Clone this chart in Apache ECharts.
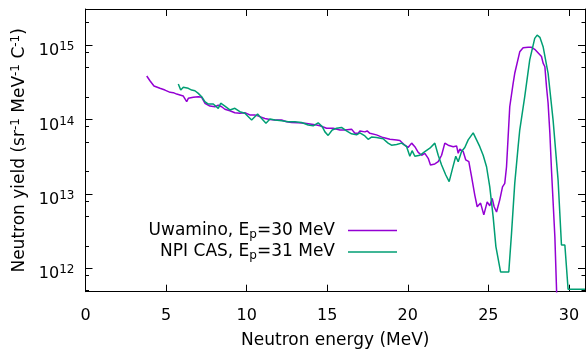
<!DOCTYPE html>
<html>
<head>
<meta charset="utf-8">
<script src="https://cdn.jsdelivr.net/npm/echarts@6/dist/echarts.min.js"></script>
<style>
  html, body { margin: 0; padding: 0; background: #fff; }
  #chart { width: 587px; height: 356px; }
</style>
</head>
<body>
<div id="chart"></div>
<script>
// Uwamino, Ep = 30 MeV (energy in MeV, yield in sr^-1 MeV^-1 C^-1)
const uwaminoE = [3.80, 4.00, 4.25, 4.62, 4.93, 5.25, 5.45, 5.66, 5.86, 6.07, 6.28, 6.38, 6.69, 7.00, 7.21, 7.41, 7.72, 8.03, 8.24, 8.45,
  8.65, 8.96, 9.27, 9.58, 9.89, 10.20, 10.51, 10.82, 11.13, 11.45, 11.76, 12.17, 12.48, 12.79, 13.20, 13.62, 13.93, 14.34, 14.55, 14.96,
  15.37, 15.79, 16.10, 16.51, 16.72, 16.92, 17.03, 17.34, 17.48, 17.65, 18.06, 18.47, 18.89, 19.31, 19.51, 19.82, 20.02, 20.24, 20.44, 20.65,
  20.86, 21.06, 21.27, 21.41, 21.68, 21.89, 22.10, 22.30, 22.51, 22.82, 23.03, 23.13, 23.23, 23.44, 23.60, 23.79, 23.96, 24.16, 24.31, 24.52,
  24.72, 24.93, 25.09, 25.24, 25.36, 25.51, 25.71, 25.88, 26.02, 26.13, 26.33, 26.54, 26.64, 26.95, 27.16, 27.47, 27.68, 27.88, 27.99, 28.30,
  28.40, 28.51, 28.61, 28.71, 28.82, 28.92, 29.13, 29.25];
const uwaminoY = [3.83e14, 3.31e14, 2.81e14, 2.62e14, 2.48e14, 2.31e14, 2.29e14, 2.19e14, 2.13e14, 2.06e14, 1.73e14, 1.92e14, 1.98e14, 2.02e14, 1.98e14, 1.65e14, 1.51e14, 1.48e14, 1.56e14, 1.48e14,
  1.37e14, 1.31e14, 1.23e14, 1.21e14, 1.23e14, 1.15e14, 1.15e14, 1.09e14, 1.03e14, 1.00e14, 9.8e13, 9.8e13, 9.3e13, 9.1e13, 9.0e13, 8.9e13, 8.7e13, 8.4e13, 8.2e13, 7.6e13,
  7.6e13, 7.2e13, 7.2e13, 7.4e13, 6.5e13, 6.5e13, 7.0e13, 6.8e13, 7.0e13, 6.5e13, 6.2e13, 5.7e13, 5.4e13, 5.3e13, 5.2e13, 4.5e13, 4.2e13, 4.8e13, 4.3e13, 3.6e13,
  3.3e13, 3.5e13, 3.0e13, 2.44e13, 2.52e13, 2.70e13, 3.3e13, 4.8e13, 4.5e13, 4.3e13, 4.4e13, 3.5e13, 4.0e13, 3.7e13, 2.85e13, 2.70e13, 1.70e13, 9.6e12, 6.7e12, 7.5e12,
  5.2e12, 7.8e12, 6.9e12, 8.7e12, 6.7e12, 5.7e12, 8.3e12, 1.24e13, 1.38e13, 2.31e13, 1.48e14, 3.06e14, 4.17e14, 8.1e14, 9.2e14, 9.3e14, 9.3e14, 8.75e14, 8.6e14, 7.0e14,
  5.7e14, 5.1e14, 2.75e14, 1.65e14, 6.5e13, 2.09e13, 2.65e12, 4.0e11];

// NPI CAS, Ep = 31 MeV
const npiE = [5.76, 5.91, 6.07, 6.38, 6.59, 6.79, 7.00, 7.21, 7.41, 7.62, 7.93, 8.24, 8.39, 8.65, 8.96, 9.27, 9.58, 9.89, 10.31, 10.68,
  10.93, 11.20, 11.45, 11.76, 12.17, 12.58, 13.00, 13.41, 13.82, 14.13, 14.44, 14.69, 14.86, 15.06, 15.31, 15.58, 15.89, 16.20, 16.51, 16.82,
  17.03, 17.34, 17.54, 17.75, 18.06, 18.47, 18.78, 18.99, 19.31, 19.62, 19.93, 20.13, 20.27, 20.44, 20.75, 21.06, 21.37, 21.68, 21.89, 22.10,
  22.36, 22.57, 22.78, 22.98, 23.13, 23.34, 23.54, 23.75, 24.06, 24.16, 24.27, 24.47, 24.68, 24.89, 25.09, 25.30, 25.47, 25.76, 26.27, 26.44,
  26.64, 26.85, 26.95, 27.26, 27.57, 27.88, 28.03, 28.20, 28.40, 28.71, 29.02, 29.33, 29.54, 29.75, 29.95, 31.0];
const npiY = [2.99e14, 2.48e14, 2.70e14, 2.62e14, 2.48e14, 2.43e14, 2.24e14, 2.02e14, 1.73e14, 1.61e14, 1.61e14, 1.41e14, 1.65e14, 1.51e14, 1.34e14, 1.41e14, 1.27e14, 1.21e14, 9.8e13, 1.18e14,
  1.03e14, 8.9e13, 1.01e14, 9.8e13, 9.6e13, 9.3e13, 9.3e13, 9.1e13, 8.4e13, 8.2e13, 9.0e13, 8.0e13, 6.8e13, 6.1e13, 7.2e13, 7.6e13, 7.8e13, 7.0e13, 6.4e13, 6.2e13,
  6.6e13, 6.0e13, 5.4e13, 5.8e13, 5.7e13, 5.5e13, 4.8e13, 4.5e13, 4.6e13, 4.8e13, 4.3e13, 3.2e13, 3.8e13, 3.2e13, 3.3e13, 3.7e13, 4.1e13, 4.8e13, 3.3e13, 2.44e13,
  1.79e13, 1.46e13, 2.20e13, 3.2e13, 2.70e13, 3.7e13, 4.2e13, 5.3e13, 6.6e13, 6.7e13, 5.3e13, 4.3e13, 3.3e13, 2.31e13, 1.24e13, 4.9e12, 1.95e12, 8.9e11, 8.9e11, 2.94e12,
  1.38e13, 4.3e13, 7.2e13, 2.02e14, 6.3e14, 1.23e15, 1.36e15, 1.27e15, 9.5e14, 4.17e14, 9.8e13, 1.53e13, 2.05e12, 2.05e12, 5.2e11, 5.2e11];

const xTicks = [0, 5, 10, 15, 20, 25, 30];
const decades = [12, 13, 14, 15];
const minorFactors = [2, 5, 8];
const yMin = 4.83e11;
const yMax = 3.05e15;
const legendLabels = ["Uwamino, E{s|p}=30 MeV", "NPI CAS, E{s|p}=31 MeV"];
const seriesNames = ["Uwamino", "NPI CAS"];

const PURPLE = "#9400d3";
const GREEN = "#009e73";
const FONT = "DejaVu Sans";

const toLog = (E, Y) => E.map((e, i) => [e, Math.log10(Y[i])]);

// minor ticks at 2, 5, 8 x 10^n inside the range
const minorTicks = [];
[11, 12, 13, 14, 15].forEach((d) => {
  minorFactors.forEach((f) => {
    const v = d + Math.log10(f);
    if (v > Math.log10(yMin) && v < Math.log10(yMax)) minorTicks.push(v);
  });
});

const chart = echarts.init(document.getElementById("chart"), null, { renderer: "canvas" });

const frameLine = { show: true, lineStyle: { color: "#000", width: 1 } };

function yAxisBase(position, ticks, len, showLine) {
  return {
    type: "value",
    position: position,
    min: Math.log10(yMin),
    max: Math.log10(yMax),
    axisLine: showLine ? frameLine : { show: false },
    splitLine: { show: false },
    axisTick: { show: true, inside: true, length: len, customValues: ticks, lineStyle: { color: "#000" } },
    axisLabel: { show: false },
  };
}

const leftMajor = yAxisBase("left", decades, 7, true);
leftMajor.axisLabel = {
  show: true,
  customValues: decades,
  margin: 11,
  padding: [12, 0, 0, 0],
  formatter: (v) => "{b|10}{e|" + Math.round(v) + "}",
  rich: {
    b: { fontFamily: FONT, fontSize: 16, color: "#000", lineHeight: 20 },
    e: { fontFamily: FONT, fontSize: 12, color: "#000", lineHeight: 12, verticalAlign: "top" },
  },
};
leftMajor.name = "{t|Neutron yield (sr}{s|-1}{t| MeV}{s|-1}{t| C}{s|-1}{t|)}";
leftMajor.nameLocation = "middle";
leftMajor.nameGap = 41;
leftMajor.nameTextStyle = {
  rich: {
    t: { fontFamily: FONT, fontSize: 17, color: "#000", lineHeight: 20 },
    s: { fontFamily: FONT, fontSize: 12, color: "#000", lineHeight: 12, verticalAlign: "top" },
  },
};

const option = {
  animation: false,
  backgroundColor: "#fff",
  grid: { left: 85.5, right: 2, top: 9, bottom: 64.3, containLabel: false, outerBoundsMode: "none" },
  legend: {
    orient: "vertical",
    align: "right",
    right: 190,
    top: 222,
    icon: "rect",
    itemWidth: 49,
    itemHeight: 1.5,
    itemGap: 3,
    padding: 0,
    data: seriesNames,
    formatter: (name) => "{n|" + legendLabels[seriesNames.indexOf(name)].replace("{s|p}", "}{s|p}{n|") + "}",
    textStyle: {
      padding: [0, 8, 0, 0],
      rich: {
        n: { fontFamily: FONT, fontSize: 17, color: "#000", lineHeight: 20 },
        s: { fontFamily: FONT, fontSize: 12, color: "#000", lineHeight: 12, verticalAlign: "bottom" },
      },
    },
  },
  xAxis: [
    {
      type: "value",
      position: "bottom",
      min: 0,
      max: 31,
      axisLine: frameLine,
      splitLine: { show: false },
      axisTick: { show: true, inside: true, length: 7, customValues: xTicks, lineStyle: { color: "#000" } },
      axisLabel: { customValues: xTicks, margin: 16, fontFamily: FONT, fontSize: 16, color: "#000" },
      name: "Neutron energy (MeV)",
      nameLocation: "middle",
      nameGap: 40,
      nameTextStyle: { fontFamily: FONT, fontSize: 17, color: "#000" },
    },
    {
      type: "value",
      position: "top",
      min: 0,
      max: 31,
      axisLine: frameLine,
      splitLine: { show: false },
      axisTick: { show: true, inside: true, length: 7, customValues: xTicks, lineStyle: { color: "#000" } },
      axisLabel: { show: false },
    },
  ],
  yAxis: [
    leftMajor,
    yAxisBase("left", minorTicks, 3.5, false),
    yAxisBase("right", decades, 7, true),
    yAxisBase("right", minorTicks, 3.5, false),
  ],
  series: [
    {
      name: seriesNames[0],
      type: "line",
      xAxisIndex: 0,
      yAxisIndex: 0,
      data: toLog(uwaminoE, uwaminoY),
      symbol: "none",
      lineStyle: { color: PURPLE, width: 1.5 },
      itemStyle: { color: PURPLE },
      clip: true,
    },
    {
      name: seriesNames[1],
      type: "line",
      xAxisIndex: 0,
      yAxisIndex: 0,
      data: toLog(npiE, npiY),
      symbol: "none",
      lineStyle: { color: GREEN, width: 1.5 },
      itemStyle: { color: GREEN },
      clip: true,
    },
  ],
};

chart.setOption(option);
</script>
</body>
</html>
